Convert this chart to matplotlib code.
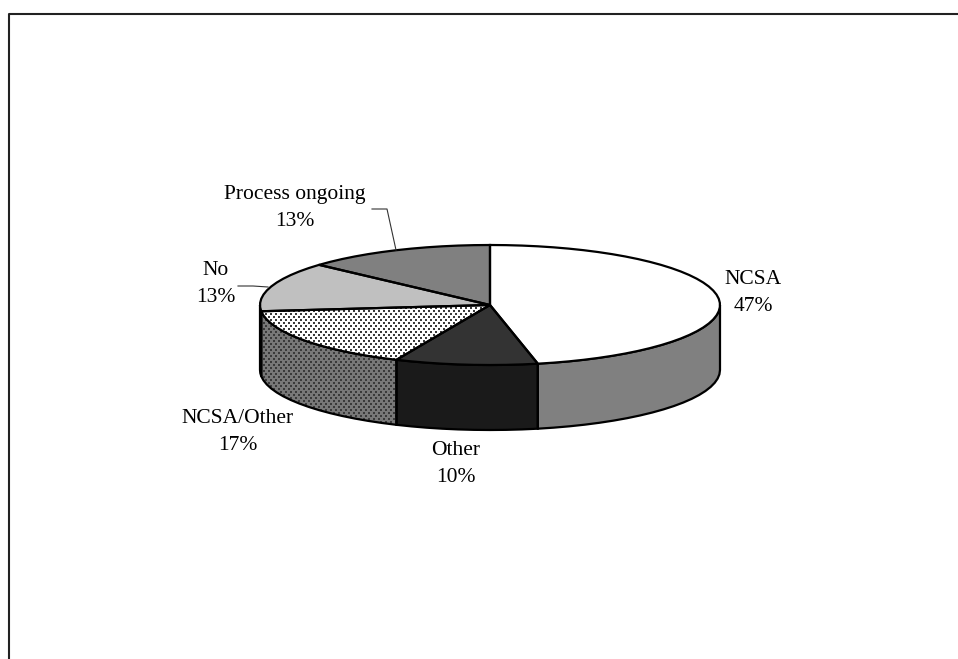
import numpy as np
import matplotlib
matplotlib.use('Agg')
import matplotlib.pyplot as plt

# pie data, the percentages on the labels are these counts out of 30
labels = ['NCSA', 'Other', 'NCSA/Other', 'No', 'Process ongoing']
counts = [14, 3, 5, 4, 4]
top_colors = ['#ffffff', '#333333', '#ffffff', '#c0c0c0', '#808080']
side_colors = ['#808080', '#1a1a1a', '#787878', '#c0c0c0', '#808080']
dotted = [False, False, True, False, False]
label_pos = [(753, 293), (456, 464), (238, 432), (216, 284), (295, 208)]

plt.rcParams['font.family'] = 'Liberation Serif'

fig = plt.figure(figsize=(9.58, 6.59), dpi=100)
ax = fig.add_axes([0, 0, 1, 1])
ax.set_xlim(0, 958)
ax.set_ylim(659, 0)
ax.axis('off')

# outer frame, only left and top are in the picture
ax.plot([9.5, 9.5, 958], [659, 13.5, 13.5], color='#222222', lw=1.5, zorder=1)

cx, cy, rx, ry, depth = 490, 305, 230, 60, 65


def rim(a, b):
    t = np.radians(np.linspace(a, b, max(int(abs(b - a) / 4), 2) + 1))
    return cx + rx * np.sin(t), cy - ry * np.cos(t)


def slice_shape(px, py, face, dots, z):
    patch = ax.fill(px, py, facecolor=face, edgecolor='none', zorder=z)[0]
    if dots:
        # staggered dot screen clipped to the slice
        gx, gy = np.meshgrid(np.arange(px.min() - 5, px.max() + 5, 5),
                             np.arange(py.min() - 3, py.max() + 3, 3))
        gx = gx + (np.arange(gx.shape[0])[:, None] % 2) * 2.5
        sc = ax.scatter(gx.ravel(), gy.ravel(), s=0.8, marker='s', color='#3a3a3a',
                        linewidths=0, zorder=z + 0.1)
        sc.set_clip_path(patch)
    ax.fill(px, py, facecolor='none', edgecolor='black', lw=1.6, zorder=z + 0.2)


edges = np.concatenate([[0], np.cumsum(counts)]) / sum(counts) * 360

# side walls, only the front half of the ellipse shows
for i in range(len(counts)):
    a = max(edges[i], 90)
    b = min(edges[i + 1], 270)
    if a >= b:
        continue
    x, y = rim(a, b)
    slice_shape(np.concatenate([x, x[::-1]]), np.concatenate([y, y[::-1] + depth]),
                side_colors[i], dotted[i], 2)

# top slices
for i in range(len(counts)):
    x, y = rim(edges[i], edges[i + 1])
    slice_shape(np.concatenate([[cx], x]), np.concatenate([[cy], y]),
                top_colors[i], dotted[i], 3)

# leader lines
ax.plot([372, 387, 396], [209, 209, 250], color='#333333', lw=0.8, zorder=4)
ax.plot([238, 253, 268], [286, 286, 287], color='#333333', lw=0.8, zorder=4)

for lab, n, (lx, ly) in zip(labels, counts, label_pos):
    pct = round(n / sum(counts) * 100)
    ax.text(lx, ly, f'{lab}\n{pct}%', ha='center', va='center', fontsize=15.5,
            linespacing=1.58, color='black', zorder=5)

fig.savefig('out.png', dpi=100)
